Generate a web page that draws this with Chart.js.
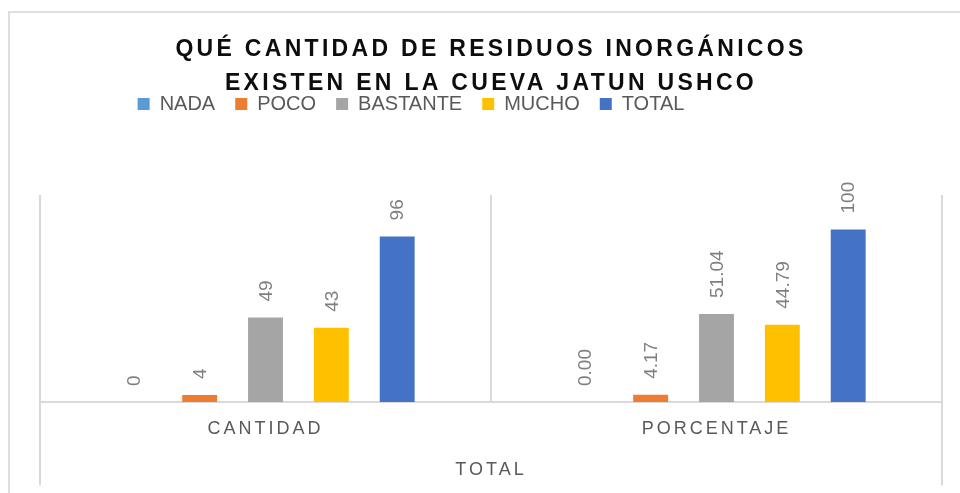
<!DOCTYPE html>
<html><head><meta charset="utf-8">
<script src="https://cdn.jsdelivr.net/npm/chart.js@4/dist/chart.umd.min.js"></script>
<style>
html,body{margin:0;padding:0;background:#fff;}
#wrap{position:relative;width:960px;height:493px;overflow:hidden;background:#fff;}
#frame{position:absolute;left:8px;top:11px;width:1000px;height:1000px;border-left:2px solid #dedede;border-top:2px solid #dedede;}
canvas{position:absolute;left:0;top:0;}
</style></head><body>
<div id="wrap"><div id="frame"></div><canvas id="c" width="960" height="493"></canvas></div>
<script>
const categories = ['CANTIDAD', 'PORCENTAJE'];
const groupLabels = ['TOTAL'];
const seriesNames = ['NADA', 'POCO', 'BASTANTE', 'MUCHO', 'TOTAL'];
const nada = [0, 0];
const poco = [4, 4.17];
const bastante = [49, 51.04];
const mucho = [43, 44.79];
const total = [96, 100];
const titleLines = ['QUÉ CANTIDAD DE RESIDUOS INORGÁNICOS', 'EXISTEN EN LA CUEVA JATUN USHCO'];
const seriesColors = ['#5B9BD5', '#ED7D31', '#A5A5A5', '#FFC000', '#4472C4'];

const seriesValues = [nada, poco, bastante, mucho, total];
const FONT = '"Liberation Sans", Arial, sans-serif';

function fmt(v, catIndex) {
  if (catIndex === 1 && v !== 100) return v.toFixed(2);
  return String(v);
}

function wrapDraw(obj, method, fn) {
  if (!obj || obj['__w_' + method]) return;
  const orig = obj[method];
  obj[method] = function (...a) {
    const ctx = this.ctx;
    ctx.save();
    fn(ctx);
    orig.apply(this, a);
    ctx.restore();
  };
  obj['__w_' + method] = true;
}

const stylePlugin = {
  id: 'stylePlugin',
  beforeDraw(chart) {
    wrapDraw(chart.titleBlock, 'draw', ctx => { ctx.letterSpacing = '3.3px'; });
    wrapDraw(chart.legend, 'draw', ctx => { ctx.letterSpacing = '0px'; ctx.translate(-80, -27); });
    ['x', 'x2'].forEach(id => {
      const s = chart.scales[id];
      if (!s) return;
      s._computeLabelArea = () => undefined;
      wrapDraw(s, 'drawLabels', ctx => { ctx.letterSpacing = '3px'; });
    });
  }
};

const valueLabels = {
  id: 'valueLabels',
  afterDatasetsDraw(chart) {
    const ctx = chart.ctx;
    chart.data.datasets.forEach((ds, di) => {
      const meta = chart.getDatasetMeta(di);
      meta.data.forEach((bar, i) => {
        const txt = fmt(ds.data[i], i);
        ctx.save();
        ctx.letterSpacing = '0px';
        ctx.translate(bar.x + 1, bar.y - 16);
        ctx.rotate(-Math.PI / 2);
        ctx.font = '19px ' + FONT;
        ctx.fillStyle = '#7f7f7f';
        ctx.textAlign = 'left';
        ctx.textBaseline = 'middle';
        ctx.fillText(txt, 0, 0);
        ctx.restore();
      });
    });
  }
};

const datasets = seriesNames.map((name, i) => ({
  label: name,
  data: seriesValues[i],
  backgroundColor: seriesColors[i],
  borderWidth: 0,
  categoryPercentage: 0.73,
  barPercentage: 0.53,
  xAxisID: 'x',
  yAxisID: 'y'
}));

new Chart(document.getElementById('c'), {
  type: 'bar',
  data: { labels: categories, datasets },
  options: {
    responsive: false,
    animation: false,
    layout: { padding: { left: 40, right: 18, top: 0, bottom: 38 } },
    plugins: {
      title: {
        display: true,
        text: titleLines,
        color: '#0d0d0d',
        font: { family: FONT, size: 23, weight: 'bold', lineHeight: 34 / 23 },
        padding: { top: 33, bottom: 0 }
      },
      subtitle: {
        display: true,
        text: '',
        weight: 500,
        font: { size: 10, lineHeight: 1.2 },
        padding: { top: 32, bottom: 0 }
      },
      legend: {
        display: true,
        position: 'top',
        labels: {
          color: '#595959',
          font: { family: FONT, size: 20 },
          boxWidth: 12,
          boxHeight: 12,
          padding: 20
        }
      },
      tooltip: { enabled: false }
    },
    scales: {
      x: {
        type: 'category',
        position: 'bottom',
        offset: true,
        grid: {
          display: true, offset: true, color: '#d9d9d9', lineWidth: 2,
          drawOnChartArea: true, drawTicks: true, tickLength: 41, tickWidth: 2,
          tickColor: c => (c.index === 1 ? 'rgba(0,0,0,0)' : '#d9d9d9')
        },
        border: { display: true, color: '#d9d9d9', width: 2 },
        ticks: { color: '#595959', font: { family: FONT, size: 18, lineHeight: 1.2 }, padding: -24.5, maxRotation: 0, autoSkip: false }
      },
      x2: {
        type: 'category',
        position: 'bottom',
        labels: groupLabels,
        offset: true,
        grid: { display: true, offset: true, drawOnChartArea: false, drawTicks: true, tickLength: 70, color: '#d9d9d9', tickColor: '#d9d9d9', lineWidth: 2, tickWidth: 2 },
        border: { display: false },
        ticks: { color: '#595959', font: { family: FONT, size: 18, lineHeight: 1.2 }, padding: -26.1, maxRotation: 0 }
      },
      y: { display: false, min: 0, max: 120 }
    }
  },
  plugins: [stylePlugin, valueLabels]
});
</script>
</body></html>
